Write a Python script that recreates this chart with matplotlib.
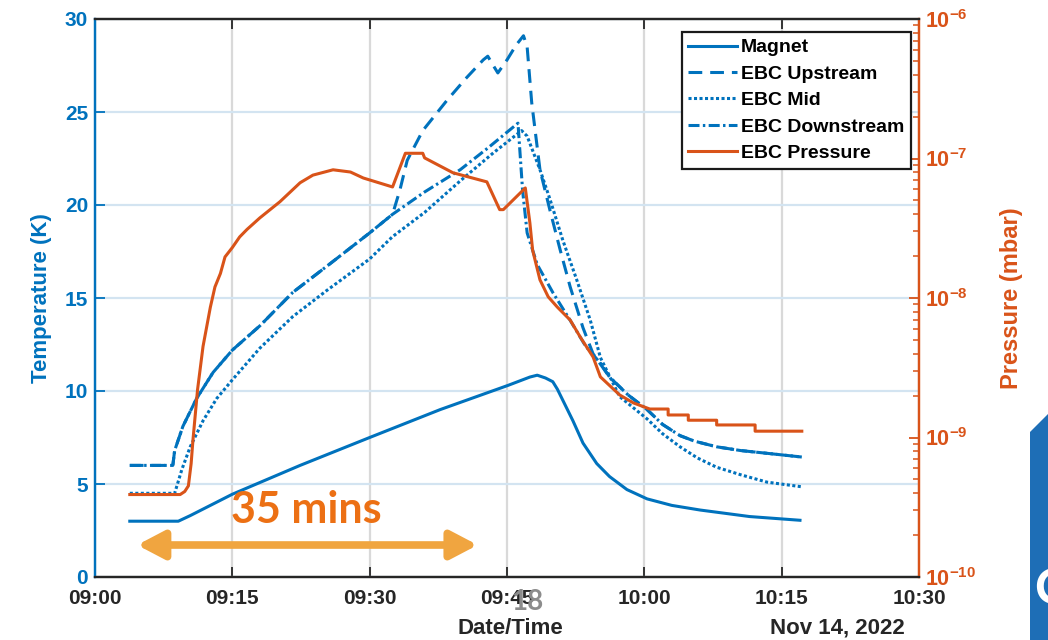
import numpy as np
import matplotlib
matplotlib.use("Agg")
import matplotlib.pyplot as plt
import matplotlib.dates as mdates
from matplotlib.ticker import FixedLocator, LogLocator, FuncFormatter, NullFormatter
from matplotlib.patches import Polygon

plt.rcParams["font.family"] = ["Liberation Sans", "DejaVu Sans"]
plt.rcParams["font.weight"] = "bold"
plt.rcParams["mathtext.fontset"] = "custom"
plt.rcParams["mathtext.rm"] = "Liberation Sans:bold"
plt.rcParams["mathtext.bf"] = "Liberation Sans:bold"

# ---- data (minutes after 09:00 on 14 Nov 2022) ----
magnet_min = [3.8, 9.1, 10.4, 12.2, 15.0, 22.4, 30.0, 37.7, 45.1, 47.5, 48.3,
              49.2, 50.0, 50.5, 51.1, 52.2, 53.3, 54.8, 56.2, 58.1, 60.3, 63.0, 66.1,
              71.5, 77.0]
magnet_K = [3.0, 3.0, 3.3, 3.75, 4.45, 6.0, 7.5, 9.0, 10.3, 10.75, 10.85,
            10.7, 10.5, 10.1, 9.5, 8.4, 7.2, 6.1, 5.4, 4.7, 4.2, 3.85, 3.6,
            3.25, 3.05]

upstream_min = [3.8, 8.5, 8.7, 9.6, 11.1, 12.9, 15.0, 18.0, 21.6, 25.3, 30.0, 32.5,
                33.3, 34.1, 35.8, 38.4, 40.5, 42.4, 42.9, 43.5, 44.0, 45.0, 46.0, 46.8,
                47.2, 47.7, 48.6, 49.7, 50.8, 51.9, 53.3, 54.4, 56.2, 58.2, 60.3, 62.0,
                63.9, 65.5, 67.9, 70.5, 73.4, 77.2]
upstream_K = [6.0, 6.0, 6.8, 8.1, 9.6, 11.0, 12.2, 13.5, 15.3, 16.7, 18.5, 19.5,
              20.8, 22.4, 24.0, 25.6, 26.8, 27.8, 28.0, 27.5, 27.1, 27.8, 28.6, 29.1,
              28.5, 25.5, 21.9, 19.7, 17.6, 15.6, 13.4, 12.0, 10.75, 9.8, 9.0, 8.2,
              7.6, 7.3, 7.0, 6.8, 6.65, 6.45]

mid_min = [3.8, 8.7, 9.5, 10.4, 11.8, 13.3, 15.0, 18.0, 21.6, 25.3, 30.0, 32.5,
           36.0, 39.9, 43.5, 46.6, 47.2, 48.6, 49.7, 51.1, 52.6, 54.1, 55.2, 57.3,
           60.3, 62.0, 63.9, 65.8, 67.9, 70.5, 73.4, 77.2]
mid_K = [4.5, 4.5, 5.8, 7.0, 8.4, 9.6, 10.6, 12.3, 14.0, 15.4, 17.1, 18.3,
         19.6, 21.3, 22.8, 24.0, 23.7, 21.9, 20.3, 18.1, 16.0, 13.8, 11.8, 9.7,
         8.5, 7.7, 7.0, 6.4, 5.9, 5.5, 5.1, 4.85]

downstream_min = [3.8, 8.5, 8.7, 9.6, 11.1, 12.9, 15.0, 18.0, 21.6, 25.3, 30.0, 32.5,
                  36.0, 39.9, 43.0, 46.2, 46.7, 47.2, 48.3, 50.0, 51.9, 53.6, 55.2,
                  56.2, 58.2, 60.3, 62.0, 63.9, 65.5, 67.9, 70.5, 73.4, 77.2]
downstream_K = [6.0, 6.0, 6.8, 8.1, 9.6, 11.0, 12.2, 13.5, 15.3, 16.7, 18.5, 19.5,
                20.7, 21.9, 23.1, 24.4, 20.8, 18.5, 16.8, 15.3, 13.8, 12.4, 11.5,
                10.75, 9.8, 9.0, 8.2, 7.6, 7.3, 7.0, 6.8, 6.65, 6.45]

pressure_min = [3.8, 9.3, 9.8, 10.2, 10.5, 10.7, 11.2, 11.8, 12.6, 13.1, 13.7, 14.2,
                15.0, 15.8, 16.6, 18.0, 20.2, 22.4, 23.8, 26.0, 27.9, 29.3, 32.5, 33.9,
                35.8, 36.0, 39.1, 42.8, 44.2, 44.6, 47.0, 47.5, 47.8, 48.6, 49.5, 50.5,
                51.9, 53.0, 54.4, 55.2, 57.3, 58.8, 60.6, 62.6, 62.6, 64.8, 64.8, 67.9,
                67.9, 72.1, 72.1, 77.2]
pressure_mbar = [3.9e-10, 3.9e-10, 4.1e-10, 4.5e-10, 6.5e-10, 9.6e-10, 2.2e-9, 4.5e-9,
                 8.6e-9, 1.2e-8, 1.5e-8, 1.97e-8, 2.3e-8, 2.74e-8, 3.1e-8, 3.75e-8,
                 4.9e-8, 6.7e-8, 7.6e-8, 8.3e-8, 8.0e-8, 7.25e-8, 6.25e-8, 1.09e-7,
                 1.09e-7, 1.01e-7, 7.9e-8, 6.8e-8, 4.3e-8, 4.3e-8, 6.15e-8, 3.45e-8,
                 2.2e-8, 1.35e-8, 1.02e-8, 8.6e-9, 6.95e-9, 5.25e-9, 3.78e-9, 2.72e-9,
                 2.02e-9, 1.77e-9, 1.6e-9, 1.6e-9, 1.45e-9, 1.45e-9, 1.33e-9, 1.33e-9,
                 1.23e-9, 1.23e-9, 1.11e-9, 1.11e-9]

temp_ticks = [0, 5, 10, 15, 20, 25, 30]
span_start_min, span_end_min, span_label = 4.6, 41.8, "35 mins"

BASE = np.datetime64("2022-11-14T09:00:00")


def clock(mins):
    secs = np.round(np.asarray(mins, dtype=float) * 60).astype("int64")
    return BASE + secs.astype("timedelta64[s]")


BLUE = "#0072BD"
ORANGE = "#D95319"
DARK = "#262626"

fig = plt.figure(figsize=(10.48, 6.4), dpi=100)
ax = fig.add_axes([95 / 1048, 1 - 577 / 640, 824 / 1048, 558 / 640])
ax2 = ax.twinx()

lw = 2.2
l1, = ax.plot(clock(magnet_min), magnet_K, color=BLUE, lw=lw, label="Magnet")
l2, = ax.plot(clock(upstream_min), upstream_K, color=BLUE, lw=lw, dashes=(4.5, 2.6),
              label="EBC Upstream")
l3, = ax.plot(clock(mid_min), mid_K, color=BLUE, lw=lw, dashes=(1.0, 0.8),
              label="EBC Mid")
l4, = ax.plot(clock(downstream_min), downstream_K, color=BLUE, lw=lw,
              dashes=(3.6, 1.1, 0.8, 1.1), label="EBC Downstream")
l5, = ax2.plot(clock(pressure_min), pressure_mbar, color=ORANGE, lw=lw,
               label="EBC Pressure")

# x axis
ax.set_xlim(clock([0])[0], clock([90])[0])
ax.xaxis.set_major_locator(mdates.MinuteLocator(byminute=[0, 15, 30, 45]))
ax.xaxis.set_major_formatter(mdates.DateFormatter("%H:%M"))

# left axis
ax.set_ylim(0, 30)
ax.yaxis.set_major_locator(FixedLocator(temp_ticks))
ax.set_ylabel("Temperature (K)", color=BLUE, fontsize=16, fontweight="bold")
ax.yaxis.set_label_coords(-0.052, 0.5)

# right axis
ax2.set_yscale("log")
ax2.set_ylim(1e-10, 1e-6)
ax2.yaxis.set_major_locator(LogLocator(base=10, numticks=10))
ax2.yaxis.set_minor_locator(LogLocator(base=10, subs=np.arange(2, 10), numticks=20))
ax2.yaxis.set_major_formatter(FuncFormatter(
    lambda v, pos: r"$\mathbf{10^{%d}}$" % int(round(np.log10(v)))))
ax2.yaxis.set_minor_formatter(NullFormatter())
ax2.set_ylabel("Pressure (mbar)", color=ORANGE, fontsize=17, fontweight="bold",
               rotation=90)
ax2.yaxis.set_label_coords(1.098, 0.5)

# grid
ax.grid(True, axis="x", color="#d9d9d9", lw=1.6)
ax.grid(True, axis="y", color="#d3e4f1", lw=1.6)
ax.set_axisbelow(True)

# spines and ticks
for a in (ax, ax2):
    for s in a.spines.values():
        s.set_linewidth(1.6)
    a.spines["top"].set_color(DARK)
    a.spines["bottom"].set_color(DARK)
    a.spines["left"].set_color(BLUE)
    a.spines["right"].set_color(ORANGE)

ax.tick_params(axis="x", direction="in", length=7, width=1.3, colors=DARK,
               labelsize=15, pad=9, top=True)
ax.tick_params(axis="y", direction="in", length=7, width=1.3, colors=BLUE,
               labelsize=15, pad=5)
ax2.tick_params(axis="y", which="major", direction="in", length=7, width=1.3,
                colors=ORANGE, labelsize=15.5, pad=4)
ax2.tick_params(axis="y", which="minor", direction="in", length=4, width=1.1,
                colors=ORANGE)
for lab in ax.get_xticklabels() + ax.get_yticklabels() + ax2.get_yticklabels():
    lab.set_fontweight("bold")

# legend
leg = ax2.legend(handles=[l1, l2, l3, l4, l5], loc="upper right",
                 bbox_to_anchor=(0.9903, 0.9767), borderaxespad=0,
                 prop={"size": 14, "weight": "bold"}, fancybox=False,
                 edgecolor="#1a1a1a", framealpha=1, handlelength=2.5,
                 handletextpad=0.2, labelspacing=0.45, borderpad=0.35)
leg.get_frame().set_linewidth(1.6)

# axis captions below the dates
fig.text(510 / 1048, 1 - 628 / 640, "Date/Time", ha="center", va="center",
         fontsize=16, fontweight="bold", color=DARK)
fig.text(905 / 1048, 1 - 628 / 640, "Nov 14, 2022", ha="right", va="center",
         fontsize=16, fontweight="bold", color=DARK)

# duration marker
t0, t1 = mdates.date2num(clock([span_start_min, span_end_min]))
ax.annotate("", xy=(t1, 1.72), xytext=(t0, 1.72),
            arrowprops=dict(arrowstyle="<|-|>,head_length=0.8,head_width=0.42",
                            color="#F0A540", lw=5.5, shrinkA=0, shrinkB=0,
                            mutation_scale=20), zorder=6)
fig.text(306 / 1048, 1 - 510 / 640, span_label, ha="center", va="center",
         fontsize=31, fontweight="bold", color="#EC7014",
         family=["Lato", "DejaVu Sans"])

# slide number and corner logo
fig.text(527 / 1048, 1 - 602 / 640, "18", ha="center", va="center", fontsize=20,
         fontweight="bold", color="#8c8c8c", family=["Lato", "DejaVu Sans"])
fig.patches.append(Polygon([(1030 / 1048, 1 - 432 / 640), (1.0, 1 - 414 / 640),
                            (1.0, 0.0), (1030 / 1048, 0.0)],
                           closed=True, transform=fig.transFigure,
                           facecolor="#1E6EB6", edgecolor="none"))
fig.text(1034 / 1048, 1 - 590 / 640, "C", ha="left", va="center", fontsize=36,
         color="white", family=["Lato", "DejaVu Sans"])

fig.savefig("out.png", dpi=100)
